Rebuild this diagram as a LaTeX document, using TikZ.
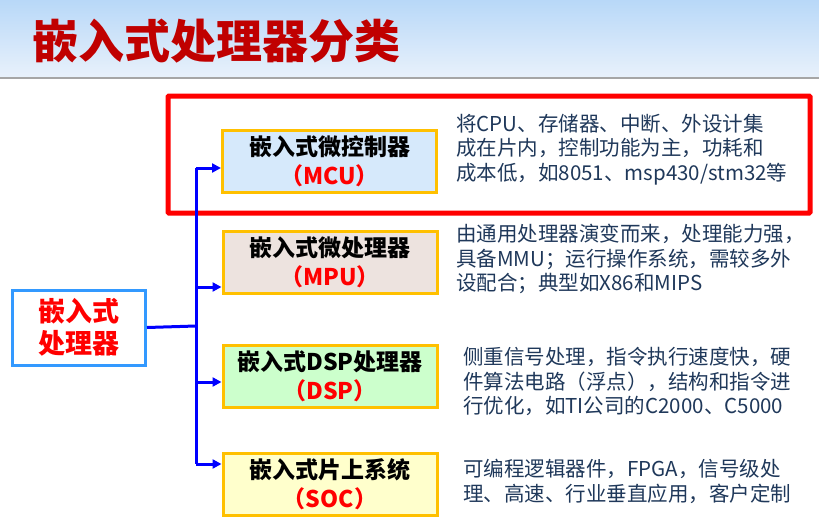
\documentclass[tikz,border=0pt]{standalone}
\usepackage{fontspec}
\setmainfont{Noto Sans CJK SC}
\usetikzlibrary{arrows.meta}
\definecolor{titlered}{RGB}{192,0,0}
\definecolor{boxgold}{RGB}{255,192,0}
\definecolor{descblue}{RGB}{31,56,90}
\definecolor{linkblue}{RGB}{0,0,255}
\definecolor{leftblue}{RGB}{51,153,255}
\begin{document}
\begin{tikzpicture}[x=1pt, y=-1pt,
  cls node/.style={rectangle,draw=boxgold,line width=3pt,minimum width=214pt,minimum height=62pt,align=center,inner sep=0pt,font=\fontsize{23}{29}\selectfont\bfseries},
  desc node/.style={anchor=north west,align=left,inner sep=0pt,text=descblue,font=\fontsize{20.5}{24.5}\selectfont},
  link/.style={draw=linkblue,line width=3pt},
  arrow/.style={link,-{Triangle[length=9pt,width=9pt]}}]
\useasboundingbox (0,0) rectangle (819,519);
% title band
\shade[top color={rgb,255:red,184;green,216;blue,248}, bottom color={rgb,255:red,232;green,241;blue,251}] (0,0) rectangle (819,77);
\draw[gray!70, line width=2pt] (0,78) -- (819,78);
\node [font=\fontsize{46}{50}\selectfont\bfseries, text=titlered](title) at (216,41) {嵌入式处理器分类};
% highlight frame
\draw[red, line width=5pt, rounded corners=1pt] (168,96) rectangle (810,213);
\node [rectangle,draw=leftblue,line width=3pt,fill=white,minimum width=133pt,minimum height=75pt,align=center,inner sep=0pt,text=red,font=\fontsize{27}{32}\selectfont\bfseries](cpu) at (79,327.5) {嵌入式\\处理器};
\node [cls node,fill={rgb,255:red,214;green,233;blue,251}](mcu) at (329.5,161) {嵌入式微控制器\\\textcolor{red}{（MCU）}};
\node [cls node,fill={rgb,255:red,237;green,227;blue,223}](mpu) at (330,262) {嵌入式微处理器\\\textcolor{red}{（MPU）}};
\node [cls node,fill={rgb,255:red,204;green,255;blue,204}](dsp) at (330,376.5) {嵌入式DSP处理器\\\textcolor{red}{（DSP）}};
\node [cls node,fill={rgb,255:red,255;green,255;blue,204}](soc) at (330,484.5) {嵌入式片上系统\\\textcolor{red}{（SOC）}};
% descriptions
\node [desc node](mcutext) at (456,114) {将CPU、存储器、中断、外设计集\\成在片内，控制功能为主，功耗和\\成本低，如8051、msp430/stm32等};
\node [desc node](mputext) at (456,224) {由通用处理器演变而来，处理能力强，\\具备MMU；运行操作系统，需较多外\\设配合；典型如X86和MIPS};
\node [desc node](dsptext) at (463,347) {侧重信号处理，指令执行速度快，硬\\件算法电路（浮点），结构和指令进\\行优化，如TI公司的C2000、C5000};
\node [desc node](soctext) at (463,459) {可编程逻辑器件，FPGA，信号级处\\理、高速、行业垂直应用，客户定制};
% connectors
\coordinate (j) at (196,326);
\coordinate (t1) at (196,168);
\coordinate (t2) at (196,287);
\coordinate (t3) at (196,382);
\coordinate (t4) at (196,464);
\draw[link] (cpu.east) -- (j);
\draw[link] (t1) -- (t4);
\draw[arrow] (t1) -- (t1 -| mcu.west);
\draw[arrow] (t2) -- (t2 -| mpu.west);
\draw[arrow] (t3) -- (t3 -| dsp.west);
\draw[arrow] (t4) -- (t4 -| soc.west);
\end{tikzpicture}
\end{document}
